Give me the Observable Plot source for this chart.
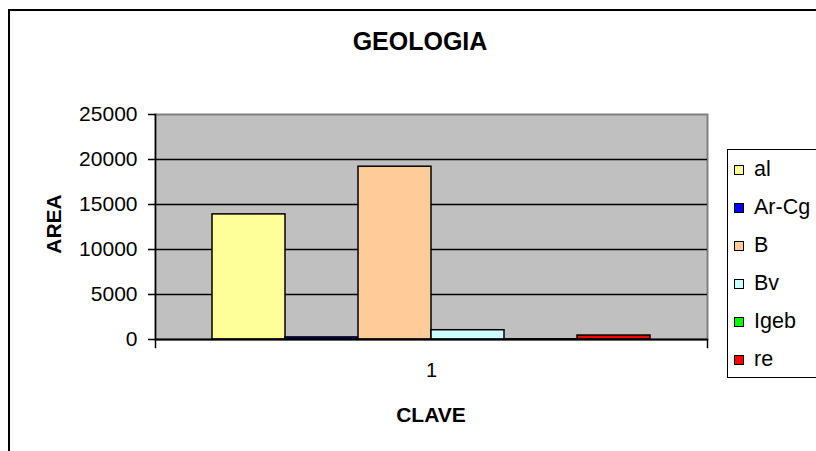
<!DOCTYPE html>
<html>
<head>
<meta charset="utf-8">
<script src="https://cdn.jsdelivr.net/npm/d3@7"></script>
<script src="https://cdn.jsdelivr.net/npm/@observablehq/plot@0.6"></script>
<style>
  html, body { margin: 0; padding: 0; background: #fff; overflow: hidden; }
  body { width: 816px; height: 451px; position: relative; font-family: "Liberation Sans", Arial, sans-serif; }
  #border { position: absolute; left: 8px; top: 9px; width: 900px; height: 600px; border: 2.5px solid #000; box-sizing: border-box; }
  #chart { position: absolute; left: 0; top: 0; }
  .title { position: absolute; font-weight: bold; color: #000; white-space: nowrap; line-height: 1; }
  #title { left: 420px; top: 41px; transform: translate(-50%, -50%); font-size: 25px; }
  #xlabel { left: 431px; top: 414px; transform: translate(-50%, -50%); font-size: 21px; }
  #ylabel { left: 53px; top: 224px; transform: translate(-50%, -50%) rotate(-90deg); font-size: 21px; }
  #legend { position: absolute; left: 727px; top: 149px; width: 120px; height: 229px; border: 1.5px solid #000; box-sizing: border-box; background: #fff; }
  .item { position: absolute; left: 6px; height: 22px; display: flex; align-items: center; font-size: 21.5px; line-height: 1; white-space: nowrap; }
  .sw { width: 8px; height: 8px; border: 1.5px solid #000; margin-right: 10px; }
</style>
</head>
<body>
<div id="border"></div>
<div id="chart"></div>
<div class="title" id="title">GEOLOGIA</div>
<div class="title" id="xlabel">CLAVE</div>
<div class="title" id="ylabel">AREA</div>
<div id="legend"></div>
<script>
const series = ["al", "Ar-Cg", "B", "Bv", "Igeb", "re"];
const areas = [13900, 230, 19200, 1030, 20, 440];
const colors = ["#FFFF99", "#0000FF", "#FFCC99", "#CCFFFF", "#00FF00", "#FF0000"];
const clave = ["1", "1", "1", "1", "1", "1"];
const yTicks = [0, 5000, 10000, 15000, 20000, 25000];

const data = series.map((s, i) => ({serie: s, area: areas[i], clave: clave[i]}));

const chart = Plot.plot({
  width: 816,
  height: 451,
  marginLeft: 155,
  marginRight: 109,
  marginTop: 114,
  marginBottom: 112,
  style: {fontFamily: "'Liberation Sans', Arial, sans-serif", fontSize: "21px", background: "transparent", color: "#000"},
  fx: {domain: ["1"], padding: 0},
  x: {domain: series, paddingInner: 0, paddingOuter: 0.735, axis: null},
  y: {domain: [0, 25000]},
  color: {domain: series, range: colors},
  marks: [
    Plot.frame({fill: "#C0C0C0", stroke: "#808080", strokeWidth: 2}),
    Plot.gridY(yTicks.slice(1, -1), {stroke: "#000", strokeOpacity: 1, strokeWidth: 1.5}),
    Plot.barY(data, {fx: "clave", x: "serie", y: "area", fill: "serie", stroke: "#000", strokeWidth: 1.5}),
    Plot.axisY(yTicks, {tickSize: 7, tickPadding: 11, label: null, tickFormat: d => String(d), fontSize: 21, strokeWidth: 1.5}),
    Plot.frame({anchor: "left", stroke: "#000", strokeWidth: 1.5, insetBottom: -8}),
    Plot.frame({anchor: "right", stroke: "#000", strokeWidth: 1.5, insetTop: 225, insetBottom: -8}),
    Plot.ruleY([0], {stroke: "#000", strokeWidth: 2}),
    Plot.axisFx({anchor: "bottom", tickSize: 0, tickPadding: 23, label: null, fontSize: 20})
  ]
});
document.getElementById("chart").appendChild(chart);

const legend = document.getElementById("legend");
series.forEach((s, i) => {
  const it = document.createElement("div");
  it.className = "item";
  it.style.top = (9 + i * 38) + "px";
  const sw = document.createElement("span");
  sw.className = "sw";
  sw.style.background = colors[i];
  const tx = document.createElement("span");
  tx.textContent = s;
  it.appendChild(sw);
  it.appendChild(tx);
  legend.appendChild(it);
});
</script>
</body>
</html>
